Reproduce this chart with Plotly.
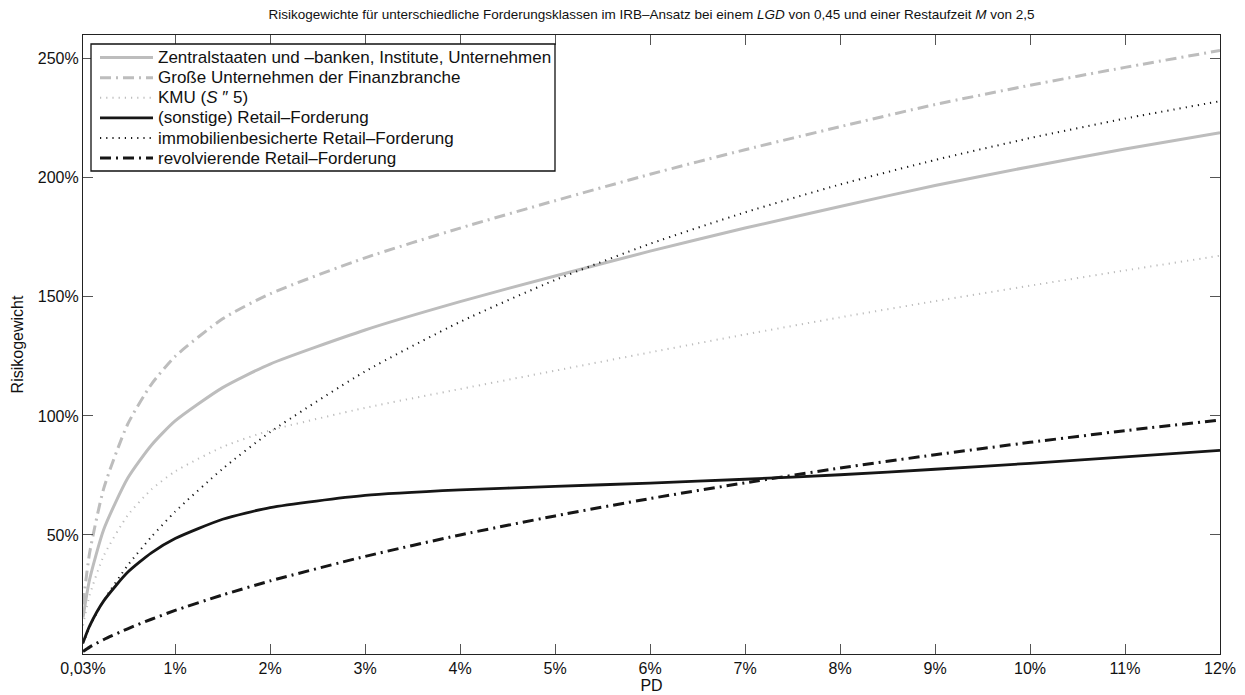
import plotly.graph_objects as go

# PD in percent
pd_pct = [0.03, 0.1, 0.25, 0.5, 0.75, 1, 1.5, 2, 3, 4, 5, 6, 7, 8, 9, 10, 11, 12]

# risk weights in percent
corporate = [15.3, 31.4, 52.5, 73.8, 87.7, 97.9, 111.9, 121.8, 136.1, 148.0, 158.8, 169.2, 178.9, 188.0, 196.8, 204.7, 212.1, 219.0]
financial = [20.8, 42.5, 69.8, 96.5, 113.3, 125.0, 140.8, 151.3, 166.4, 178.9, 190.4, 201.5, 211.8, 221.5, 230.8, 238.9, 246.4, 253.5]
sme = [12.0, 24.7, 41.4, 58.2, 69.1, 76.7, 87.0, 93.9, 103.4, 111.3, 119.0, 126.7, 134.2, 141.4, 148.2, 154.7, 161.1, 167.3]
retail = [4.7, 11.8, 22.4, 34.3, 42.5, 48.5, 56.6, 61.5, 66.6, 68.9, 70.4, 71.8, 73.4, 75.3, 77.6, 80.1, 82.8, 85.5]
mortgage = [4.4, 11.3, 22.6, 37.2, 49.2, 59.8, 77.8, 93.2, 118.7, 139.5, 157.1, 172.3, 185.5, 197.2, 207.5, 216.7, 224.9, 232.2]
revolving = [1.0, 2.9, 6.1, 10.6, 14.6, 18.3, 24.8, 30.7, 41.0, 50.0, 58.0, 65.3, 71.9, 78.1, 83.7, 88.9, 93.8, 98.3]

names = [
    "Zentralstaaten und –banken, Institute, Unternehmen",
    "Große Unternehmen der Finanzbranche",
    "KMU (<i>S</i> ″ 5)",
    "(sonstige) Retail–Forderung",
    "immobilienbesicherte Retail–Forderung",
    "revolvierende Retail–Forderung",
]

x_tickvals = [0.03, 1, 2, 3, 4, 5, 6, 7, 8, 9, 10, 11, 12]
x_ticktext = ["0,03%", "1%", "2%", "3%", "4%", "5%", "6%", "7%", "8%", "9%", "10%", "11%", "12%"]
y_tickvals = [50, 100, 150, 200, 250]
y_ticktext = ["50%", "100%", "150%", "200%", "250%"]

GRAY = "#bdbdbd"
BLACK = "#161616"
DASHDOT = "11px,5px,2px,5px"
DOT = "1.2px,5px"

styles = [
    (GRAY, 3, "solid"),
    (GRAY, 3, DASHDOT),
    (GRAY, 2, DOT),
    (BLACK, 2.8, "solid"),
    (BLACK, 2, DOT),
    (BLACK, 3, DASHDOT),
]
series = [corporate, financial, sme, retail, mortgage, revolving]

FONT = "Liberation Sans, Arial, Helvetica, sans-serif"

W, H = 1245, 695
ML, MR, MT, MB = 83, 25, 35, 41
PW, PH = W - ML - MR, H - MT - MB

fig = go.Figure()
for vals, (col, w, dash), nm in zip(series, styles, names):
    fig.add_trace(go.Scatter(
        x=pd_pct, y=vals, mode="lines", name=nm, showlegend=False,
        line=dict(color=col, width=w, dash=dash, shape="spline", smoothing=0.6),
    ))

# legend box drawn in paper coordinates (pixel offsets inside plot area)
def px_x(px):
    return px / PW

def px_y(py):
    return 1 - py / PH

box_l, box_r, box_t, box_b = 8, 472, 9, 136
shapes = [dict(type="rect", xref="paper", yref="paper",
               x0=px_x(box_l), x1=px_x(box_r), y0=px_y(box_b), y1=px_y(box_t),
               line=dict(color="#111", width=1.3), fillcolor="white", layer="above")]
annotations = []
for i, ((col, w, dash), nm) in enumerate(zip(styles, names)):
    yy = px_y(22.6 + 20.1 * i)
    shapes.append(dict(type="line", xref="paper", yref="paper",
                       x0=px_x(17), x1=px_x(70), y0=yy, y1=yy,
                       line=dict(color=col, width=w, dash=dash), layer="above"))
    annotations.append(dict(xref="paper", yref="paper", x=px_x(73), y=yy,
                            text=nm, showarrow=False, xanchor="left", yanchor="middle",
                            font=dict(family=FONT, size=17, color="#111")))

fig.update_layout(
    width=W, height=H,
    margin=dict(l=ML, r=MR, t=MT, b=MB, autoexpand=False),
    paper_bgcolor="white", plot_bgcolor="white",
    font=dict(family=FONT, size=16, color="#111"),
    title=dict(
        text="Risikogewichte für unterschiedliche Forderungsklassen im IRB–Ansatz bei einem <i>LGD</i> von 0,45 und einer Restaufzeit <i>M</i> von 2,5",
        x=0.5, xanchor="center", xref="paper",
        y=1 - 14 / H, yanchor="middle", yref="container",
        font=dict(family=FONT, size=13.5, color="#111"),
    ),
    showlegend=False,
    shapes=shapes,
    annotations=annotations,
)

fig.update_xaxes(
    range=[0.03, 12], tickvals=x_tickvals, ticktext=x_ticktext,
    ticks="inside", ticklen=10, tickcolor="#555", tickwidth=1,
    showline=True, linecolor="#222", linewidth=1.2, mirror="ticks",
    showgrid=False, zeroline=False, automargin=False,
    title=dict(text="PD", standoff=0, font=dict(family=FONT, size=16)),
    tickfont=dict(family=FONT, size=16),
)
fig.update_yaxes(
    range=[0, 260], tickvals=y_tickvals, ticktext=y_ticktext,
    ticks="inside", ticklen=10, tickcolor="#555", tickwidth=1,
    showline=True, linecolor="#222", linewidth=1.2, mirror="ticks",
    showgrid=False, zeroline=False, automargin=False,
    title=dict(text="Risikogewicht", standoff=10, font=dict(family=FONT, size=16)),
    tickfont=dict(family=FONT, size=16),
)

fig.write_html(
    "out.html",
    config={"displayModeBar": False},
    post_script="document.body.style.margin='0';document.documentElement.style.overflow='hidden';document.body.style.overflow='hidden';",
)
